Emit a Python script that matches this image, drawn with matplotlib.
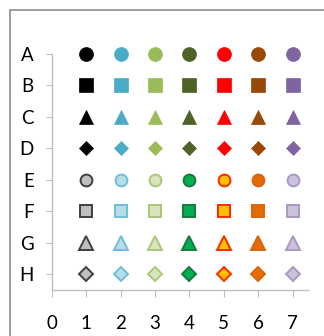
import matplotlib
matplotlib.use("Agg")
import matplotlib.pyplot as plt
from matplotlib.patches import Rectangle

plt.rcParams['font.family'] = ['Lato', 'DejaVu Sans']

row_labels = ['A', 'B', 'C', 'D', 'E', 'F', 'G', 'H']
row_values = [8, 7, 6, 5, 4, 3, 2, 1]
x_values = [1, 2, 3, 4, 5, 6, 7]
x_ticks = [0, 1, 2, 3, 4, 5, 6, 7]

solid_colors = ['#000000', '#4bacc6', '#9bbb59', '#4f6228', '#ff0000', '#984807', '#8064a2']
light_faces = ['#bfbfbf', '#b7dee8', '#d7e4bd', '#00b050', '#ffc000', '#e36c09', '#ccc1da']
light_edges = ['#404040', '#6fbfd6', '#aac67a', '#177a3a', '#ff2a00', '#d8650c', '#a998c4']

row_markers = ['o', 's', '^', 'D', 'o', 's', '^', 'D']
row_sizes = [10, 9.5, 10.5, 7, 8.5, 8.3, 9.8, 6.8]
row_styles = ['solid'] * 4 + ['light'] * 4

W, H = 324, 336
fig = plt.figure(figsize=(W / 100, H / 100), dpi=100)
ax = fig.add_axes([52 / W, (H - 290) / H, (308 - 52) / W, (290 - 54) / H])

for lab, yv, mk, ms, st in zip(row_labels, row_values, row_markers, row_sizes, row_styles):
    for i, xv in enumerate(x_values):
        if st == 'solid':
            ax.plot([xv], [yv], marker=mk, markersize=ms, color=solid_colors[i],
                    markeredgecolor=solid_colors[i], markeredgewidth=0.5, linestyle='none',
                    clip_on=False)
        else:
            ax.plot([xv], [yv], marker=mk, markersize=ms, markerfacecolor=light_faces[i],
                    markeredgecolor=light_edges[i], markeredgewidth=1.4, linestyle='none',
                    clip_on=False)

ax.set_xlim(0, 7.45)
ax.set_ylim(0.5, 8)
ax.set_xticks(x_ticks)
ax.set_xticklabels([str(t) for t in x_ticks])
ax.set_yticks(row_values)
ax.set_yticklabels(row_labels)

for s in ['top', 'right']:
    ax.spines[s].set_visible(False)
for s in ['left', 'bottom']:
    ax.spines[s].set_color('#bfbfbf')
    ax.spines[s].set_linewidth(1.0)
ax.tick_params(axis='both', colors='#bfbfbf', labelcolor='#000000', labelsize=13.5)
ax.tick_params(axis='y', direction='out', length=4, pad=9)
ax.tick_params(axis='x', direction='out', length=5, pad=13)

fig.patches.append(Rectangle((10 / W, -0.1), 1.2, (H - 10) / H + 0.1, transform=fig.transFigure,
                             fill=False, edgecolor='#8c8c8c', linewidth=1.2))

fig.savefig('out.png', dpi=100)
